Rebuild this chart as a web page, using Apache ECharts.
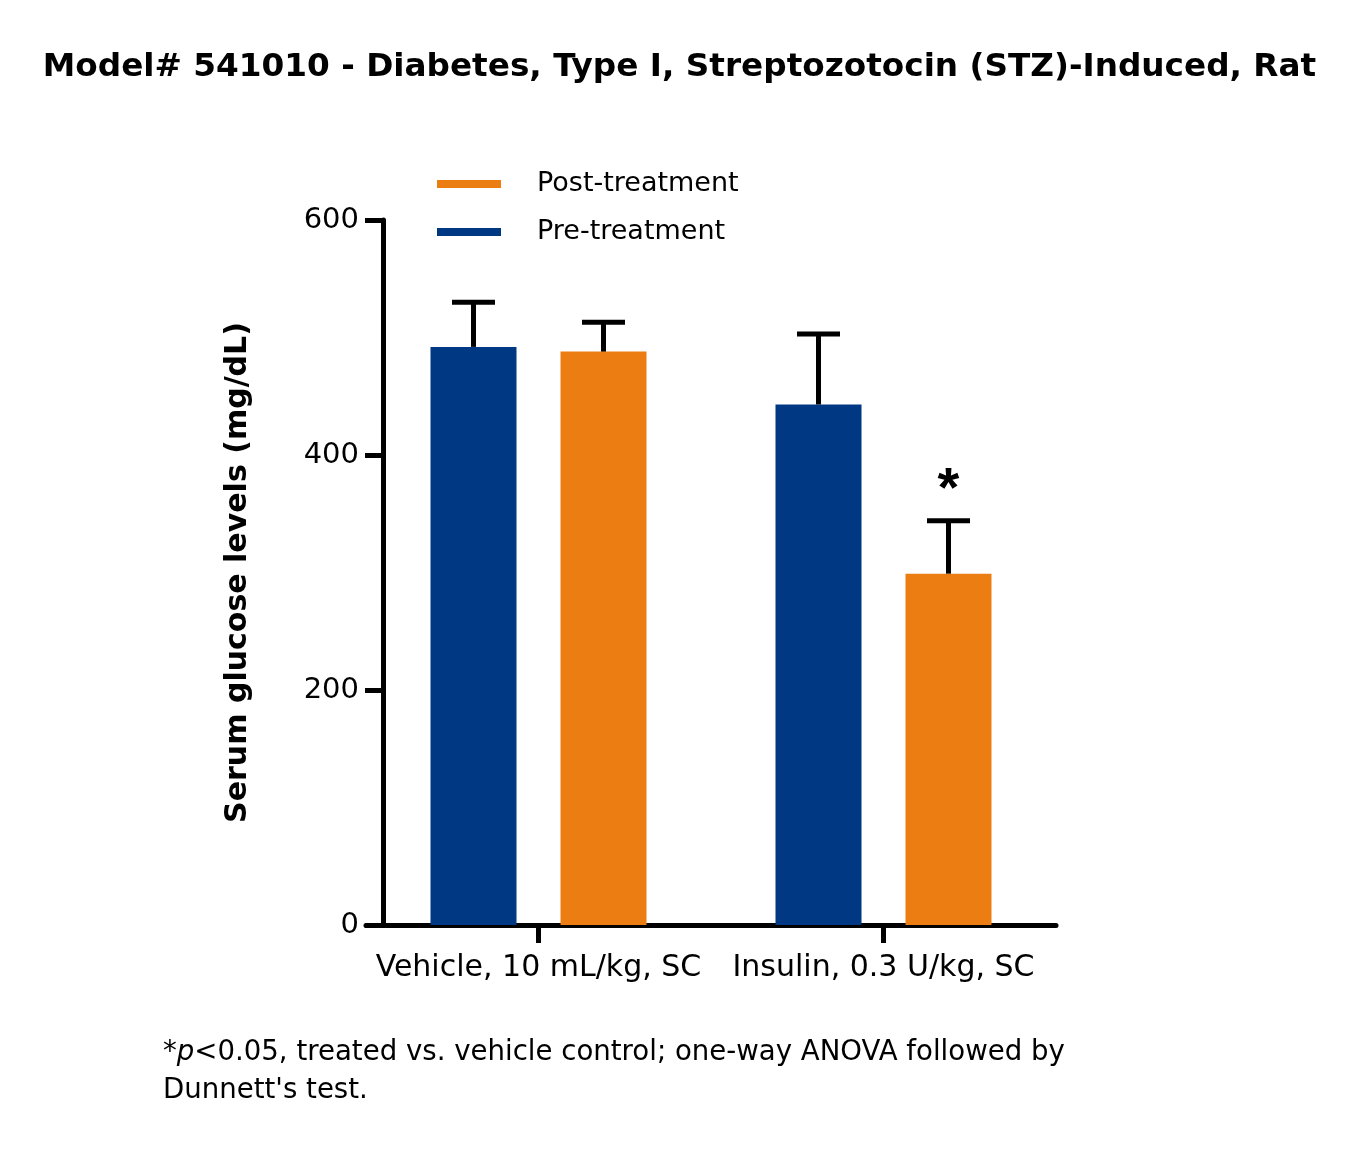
<!DOCTYPE html>
<html>
<head>
<meta charset="utf-8">
<script src="https://cdn.jsdelivr.net/npm/echarts@6/dist/echarts.min.js"></script>
<style>
  html, body { margin: 0; padding: 0; background: #fff; }
  #main { width: 1359px; height: 1152px; }
</style>
</head>
<body>
<div id="main"></div>
<script>
// groups on the x axis
var categories = ['Vehicle, 10 mL/kg, SC', 'Insulin, 0.3 U/kg, SC'];
// mean serum glucose (mg/dL) and SEM
var preValues = [492, 443];
var preErrors = [38, 60];
var postValues = [488, 299];
var postErrors = [25, 45];
// significance marks over post-treatment bars
var postSig = ['', '*'];
var yTicks = [0, 200, 400, 600];

var FONT = '"DejaVu Sans", sans-serif';
var BLUE = '#003883';
var ORANGE = '#EC7D13';
var BAR_W = 86;
var BAR_GAP = 44;
var OFF = (BAR_W + BAR_GAP) / 2;   // distance from group center to bar center
var CAP_W = 43;

var myChart = echarts.init(document.getElementById('main'));

// error bar (only upper half) drawn through the axis scales
function errorBar(side, sig) {
  return function (params, api) {
    var i = api.value(0);
    var v = api.value(1);
    var e = api.value(2);
    var base = api.coord([i, v]);
    var top = api.coord([i, v + e]);
    var x = base[0] + side * OFF;
    var st = { stroke: '#000', lineWidth: 5, lineCap: 'butt' };
    var kids = [
      { type: 'line', shape: { x1: x, y1: base[1], x2: x, y2: top[1] }, style: st },
      { type: 'line', shape: { x1: x - CAP_W / 2, y1: top[1], x2: x + CAP_W / 2, y2: top[1] }, style: st }
    ];
    if (sig && sig[params.dataIndex]) {
      kids.push({
        type: 'text',
        style: {
          text: sig[params.dataIndex], x: x, y: top[1] - 30,
          align: 'center', verticalAlign: 'middle',
          font: 'bold 56px "Liberation Sans", Arial, sans-serif', fill: '#000'
        }
      });
    }
    return { type: 'group', children: kids };
  };
}

var preErrData = [], postErrData = [];
for (var k = 0; k < categories.length; k++) {
  preErrData.push([k, preValues[k], preErrors[k]]);
  postErrData.push([k, postValues[k], postErrors[k]]);
}

var option = {
  animation: false,
  backgroundColor: '#fff',
  title: {
    text: 'Model# 541010 - Diabetes, Type I, Streptozotocin (STZ)-Induced, Rat',
    left: 'center',
    top: 46,
    textStyle: { fontFamily: FONT, fontWeight: 'bold', fontSize: 32.7, color: '#000' }
  },
  legend: {
    data: ['Post-treatment', 'Pre-treatment'],
    orient: 'vertical',
    left: 432,
    top: 164,
    itemWidth: 64,
    itemHeight: 8,
    itemGap: 18,
    icon: 'rect',
    textStyle: {
      fontFamily: FONT, fontSize: 27, color: '#000', lineHeight: 30,
      padding: [0, 0, 0, 31]
    }
  },
  grid: { left: 366, top: 220, width: 690, height: 705 },
  xAxis: {
    type: 'category',
    data: categories,
    axisLine: { show: true, lineStyle: { color: '#000', width: 5 } },
    axisTick: { show: true, interval: 0, alignWithLabel: true, length: 18, lineStyle: { color: '#000', width: 5 } },
    axisLabel: { interval: 0, hideOverlap: false, color: '#000', fontFamily: FONT, fontSize: 30, margin: 28 }
  },
  yAxis: {
    type: 'value',
    min: yTicks[0],
    max: yTicks[yTicks.length - 1],
    interval: yTicks[1] - yTicks[0],
    offset: -17,
    name: 'Serum glucose levels (mg/dL)',
    nameLocation: 'middle',
    nameGap: 130,
    nameTextStyle: { fontFamily: FONT, fontWeight: 'bold', fontSize: 30, color: '#000' },
    splitLine: { show: false },
    axisLine: { show: true, lineStyle: { color: '#000', width: 5 } },
    axisTick: { show: true, length: 18, lineStyle: { color: '#000', width: 5 } },
    axisLabel: { color: '#000', fontFamily: FONT, fontSize: 29, margin: 24 }
  },
  series: [
    {
      name: 'Pre-treatment',
      type: 'bar',
      data: preValues,
      barWidth: BAR_W,
      barGap: (BAR_GAP / BAR_W * 100) + '%',
      itemStyle: { color: BLUE }
    },
    {
      name: 'Post-treatment',
      type: 'bar',
      data: postValues,
      barWidth: BAR_W,
      itemStyle: { color: ORANGE }
    },
    {
      name: 'preErr',
      type: 'custom',
      data: preErrData,
      renderItem: errorBar(-1, null),
      z: 5
    },
    {
      name: 'postErr',
      type: 'custom',
      data: postErrData,
      renderItem: errorBar(1, postSig),
      z: 5
    }
  ],
  graphic: [
    {
      type: 'text',
      left: 163,
      top: 1039,
      style: {
        text: '*{it|p}<0.05, treated vs. vehicle control; one-way ANOVA followed by',
        font: '27.6px ' + FONT,
        fill: '#000',
        rich: { it: { fontStyle: 'italic', fontSize: 27.6, fontFamily: FONT } }
      }
    },
    {
      type: 'text',
      left: 163,
      top: 1077,
      style: { text: "Dunnett's test.", font: '27.6px ' + FONT, fill: '#000' }
    }
  ]
};

myChart.setOption(option);
</script>
</body>
</html>
